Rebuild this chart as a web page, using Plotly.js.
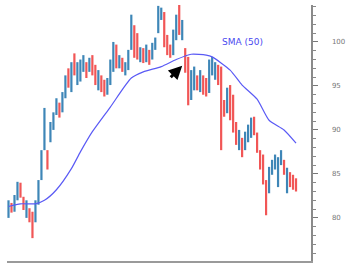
<!DOCTYPE html>
<html>
<head>
<meta charset="utf-8">
<script src="https://cdn.plot.ly/plotly-3.0.1.min.js"></script>
<style>html,body{margin:0;padding:0;background:#fff;}#chart{width:349px;height:264px;}</style>
</head>
<body>
<div id="chart"></div>
<script>
// Bar index (one per session)
const openVals  = [80.5,81.5,81.0,82.4,83.7,82.2,80.5,80.9,80.3,79.9,82.0,84.8,88.2,87.4,89.0,90.4,92.0,92.9,92.4,94.0,96.6,94.8,98.2,95.6,96.0,97.0,97.4,96.9,98.1,97.0,94.9,95.9,95.3,94.3,95.5,97.1,99.3,97.3,97.9,96.5,97.2,99.6,101.4,100.6,98.0,99.0,98.0,98.8,98.3,99.3,101.5,102.8,103.0,100.4,99.5,98.9,100.6,103.7,100.6,98.9,97.6,93.8,94.9,95.9,94.7,95.9,95.5,94.7,96.6,96.0,97.0,96.5,93.1,92.3,94.6,93.4,90.5,88.1,88.7,88.0,88.9,89.5,91.1,89.3,87.3,86.6,83.8,83.3,85.2,85.8,84.0,86.3,86.3,83.3,85.0,84.6,84.2];
const highVals  = [82.0,81.7,82.6,84.1,84.0,82.4,82.0,81.1,80.7,82.0,84.3,87.7,92.5,87.7,90.9,92.0,93.6,93.1,94.3,96.2,97.0,97.7,98.7,97.7,98.0,98.5,97.7,98.2,98.5,97.4,96.8,96.2,95.7,95.9,98.0,100.0,99.7,98.5,98.2,97.7,99.1,103.1,101.9,101.0,99.4,99.3,99.7,99.1,99.9,100.5,104.1,103.9,103.4,100.8,99.7,101.4,103.1,104.2,102.5,99.3,98.3,96.8,97.2,96.2,96.8,96.2,95.9,98.0,98.3,97.7,97.4,97.2,93.4,94.8,95.1,94.0,90.9,90.0,89.1,89.8,90.6,91.4,91.5,89.7,87.7,87.2,84.3,85.8,86.6,87.2,86.9,87.7,86.6,85.7,85.2,84.9,84.5];
const lowVals   = [80.0,80.6,80.7,82.0,82.3,80.9,80.0,79.5,77.7,79.5,81.5,84.3,87.7,85.5,88.6,90.0,91.7,91.4,92.0,93.6,94.8,94.3,96.2,95.1,95.5,96.6,95.9,96.6,96.2,95.1,94.5,94.3,93.8,94.0,95.1,96.6,97.0,97.0,96.6,96.2,96.8,99.1,98.2,98.0,97.7,97.6,97.7,97.4,98.0,99.1,101.0,102.5,99.4,98.5,98.2,98.5,100.2,100.8,100.2,96.5,92.8,93.4,94.5,94.5,94.3,94.0,93.8,94.2,96.2,95.7,95.1,87.7,91.5,91.9,91.1,89.7,88.3,87.7,86.9,87.7,88.6,89.1,89.4,87.4,85.5,83.8,80.3,82.8,84.9,85.5,83.5,86.0,84.9,82.8,83.5,83.2,83.0];
const closeVals = [81.6,80.9,82.2,83.6,82.6,81.2,81.7,79.9,78.5,81.6,83.8,87.2,91.6,86.0,90.5,91.6,93.2,91.8,93.9,95.8,95.2,97.2,96.6,97.3,97.6,98.2,96.3,97.9,96.6,95.5,96.4,94.7,94.2,95.5,97.6,99.5,97.5,98.2,96.9,97.4,98.7,102.5,98.8,98.4,99.1,97.9,99.4,97.8,99.6,100.2,103.6,103.6,99.9,98.9,98.5,101.0,102.7,101.2,102.1,96.9,93.5,96.3,96.8,94.8,96.4,94.4,94.1,97.5,97.9,97.3,95.5,88.8,91.9,94.3,91.6,90.2,88.7,89.6,87.3,89.4,90.2,91.0,89.8,87.8,85.9,84.4,81.5,85.3,86.3,86.9,86.4,87.4,85.2,85.2,83.8,83.5,83.3];

// 50-period simple moving average at these bar indices
const smaIndex = [0,4,9,12,16,21,24,28,34,41,45,51,56,61,66,68,74,78,83,87,92,96];
const smaVals  = [81.3,81.6,81.6,82.0,83.2,85.6,87.5,89.8,92.6,95.9,96.6,97.2,98.0,98.6,98.5,98.3,96.8,95.1,93.5,91.1,90.0,88.5];

const yTickVals = [80,85,90,95,100];
const yTickText = ['80','85','90','95','100'];
const smaLabel = 'SMA (50)';

const barIndex = openVals.map((_, i) => i);

const traces = [
  {
    type: 'ohlc',
    x: barIndex,
    open: openVals, high: highVals, low: lowVals, close: closeVals,
    increasing: {line: {color: '#2a7ab0', width: 2.2}},
    decreasing: {line: {color: '#f04444', width: 2.2}},
    tickwidth: 0,
    opacity: 0.9,
    hoverinfo: 'skip'
  },
  {
    type: 'scatter', mode: 'lines',
    x: smaIndex, y: smaVals,
    line: {color: '#5a5af5', width: 1.2, shape: 'spline', smoothing: 0.6},
    hoverinfo: 'skip'
  }
];

const layout = {
  width: 349, height: 264,
  margin: {l: 7, r: 38, t: 5, b: 3},
  paper_bgcolor: '#fff', plot_bgcolor: '#fff',
  showlegend: false,
  xaxis: {
    range: [-0.5, 101],
    showgrid: false, zeroline: false,
    showticklabels: false, ticks: '',
    showline: true, linecolor: '#9a9a9a', linewidth: 2,
    rangeslider: {visible: false}
  },
  yaxis: {
    side: 'right',
    range: [75.1, 104.2],
    showgrid: false, zeroline: false,
    showline: true, linecolor: '#8a8a8a', linewidth: 1.5,
    tickmode: 'array', tickvals: yTickVals, ticktext: yTickText,
    ticks: 'outside', ticklen: 5, tickcolor: '#777', tickwidth: 1,
    ticklabelstandoff: 13,
    tickfont: {family: 'DejaVu Sans, sans-serif', size: 7, color: '#777'},
    minor: {dtick: 1, ticks: 'outside', ticklen: 3, tickcolor: '#888', showgrid: false}
  },
  annotations: [
    {
      x: 78, y: 100.0, xref: 'x', yref: 'y',
      text: smaLabel, showarrow: false,
      font: {family: 'DejaVu Sans, sans-serif', size: 9, color: '#4a4af0'}
    },
    {
      x: 58, y: 97.3, xref: 'x', yref: 'y',
      text: '', showarrow: true,
      ax: -13, ay: 13,
      arrowhead: 2, arrowsize: 0.9, arrowwidth: 3, arrowcolor: '#000'
    }
  ]
};

Plotly.newPlot('chart', traces, layout, {staticPlot: true, displayModeBar: false});
</script>
</body>
</html>
